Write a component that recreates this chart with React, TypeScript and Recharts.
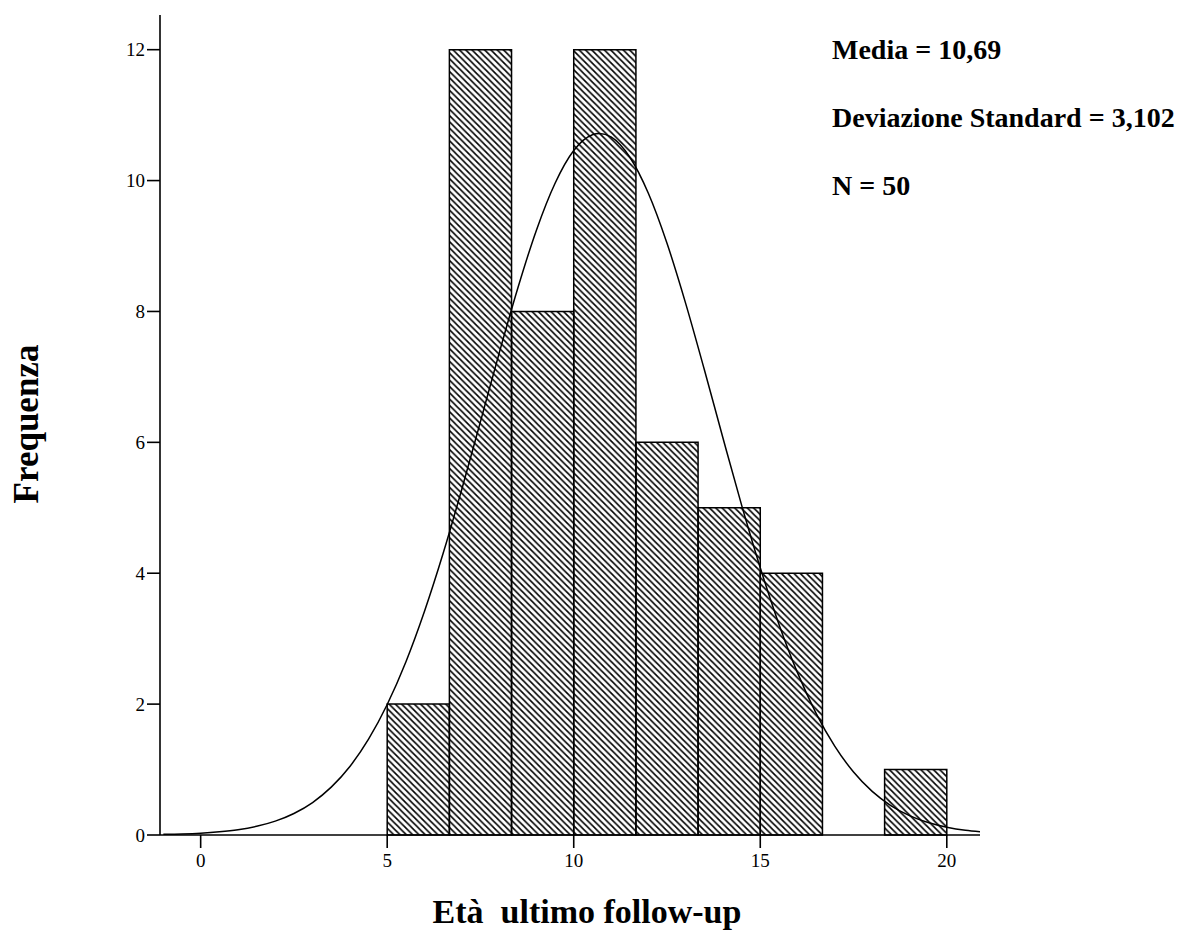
import React from 'react';
import { ComposedChart, Line, XAxis, YAxis, ReferenceArea } from 'recharts';

// istogramma: classi di età e frequenze
const binStart = [5, 6.667, 8.333, 10, 11.667, 13.333, 15, 16.667, 18.333];
const binEnd = [6.667, 8.333, 10, 11.667, 13.333, 15, 16.667, 18.333, 20];
const counts = [2, 12, 8, 12, 6, 5, 4, 0, 1];

// curva normale
const curveX = [-1, -0.5, 0, 0.5, 1, 1.5, 2, 2.5, 3, 3.5, 4, 4.5, 5, 5.5, 6, 6.5, 7, 7.5, 8, 8.5, 9, 9.5, 10, 10.5, 10.69, 11, 11.5, 12, 12.5, 13, 13.5, 14, 14.5, 15, 15.5, 16, 16.5, 17, 17.5, 18, 18.5, 19, 19.5, 20, 20.5, 20.9];
const curveY = [0.01, 0.016, 0.028, 0.049, 0.081, 0.133, 0.212, 0.329, 0.496, 0.731, 1.047, 1.464, 1.994, 2.644, 3.419, 4.304, 5.284, 6.317, 7.36, 8.355, 9.242, 9.959, 10.459, 10.7, 10.72, 10.667, 10.36, 9.806, 9.042, 8.124, 7.113, 6.067, 5.041, 4.083, 3.222, 2.477, 1.856, 1.354, 0.963, 0.667, 0.45, 0.296, 0.19, 0.119, 0.072, 0.05];

const xTicks = [0, 5, 10, 15, 20];
const yTicks = [0, 2, 4, 6, 8, 10, 12];

const statsLines = ['Media = 10,69', 'Deviazione Standard = 3,102', 'N = 50'];

const font = '"Liberation Serif", "Times New Roman", serif';

export default function App() {
  const curveData = curveX.map((x, i) => ({ x, y: curveY[i] }));

  return (
    <div style={{ position: 'absolute', left: 0, top: 0, width: 1195, height: 937, background: '#fff', fontFamily: font }}>
      <ComposedChart
        width={1195}
        height={937}
        data={curveData}
        margin={{ top: 15, right: 215, left: 0, bottom: 72 }}
      >
        <defs>
          <pattern id="hatch" patternUnits="userSpaceOnUse" width="6.3" height="6.3">
            <path d="M0,0 L6.3,6.3 M-2,4.3 L2,8.3 M4.3,-2 L8.3,2" stroke="#000" strokeWidth="1.6" />
          </pattern>
        </defs>
        <XAxis
          dataKey="x"
          type="number"
          domain={[-1.09, 20.89]}
          ticks={xTicks}
          allowDataOverflow
          height={30}
          tickSize={13}
          tickMargin={6}
          axisLine={{ stroke: '#000', strokeWidth: 1.6 }}
          tickLine={{ stroke: '#000', strokeWidth: 1.6 }}
          tick={{ fill: '#000', fontSize: 19, fontFamily: font }}
        />
        <YAxis
          type="number"
          domain={[0, 12.53]}
          ticks={yTicks}
          allowDataOverflow
          width={160}
          tickSize={13}
          tickMargin={2}
          axisLine={{ stroke: '#000', strokeWidth: 1.6 }}
          tickLine={{ stroke: '#000', strokeWidth: 1.6 }}
          tick={{ fill: '#000', fontSize: 19, fontFamily: font }}
        />
        {counts.map((c, i) =>
          c > 0 ? (
            <ReferenceArea
              key={i}
              x1={binStart[i]}
              x2={binEnd[i]}
              y1={0}
              y2={c}
              fill="url(#hatch)"
              fillOpacity={1}
              stroke="#000"
              strokeWidth={1.5}
            />
          ) : null
        )}
        <Line
          dataKey="y"
          type="monotone"
          stroke="#000"
          strokeWidth={1.5}
          dot={false}
          activeDot={false}
          isAnimationActive={false}
        />
      </ComposedChart>

      {/* statistiche in alto a destra */}
      {statsLines.map((s, i) => (
        <div
          key={s}
          style={{
            position: 'absolute',
            left: 832,
            top: 50 + i * 68,
            transform: 'translateY(-50%)',
            fontSize: 28,
            fontWeight: 'bold',
            whiteSpace: 'nowrap',
            lineHeight: 1,
          }}
        >
          {s}
        </div>
      ))}

      {/* titolo asse y */}
      <div
        style={{
          position: 'absolute',
          left: 26,
          top: 424,
          transform: 'translate(-50%, -50%) rotate(-90deg)',
          fontSize: 35,
          fontWeight: 'bold',
          whiteSpace: 'nowrap',
          lineHeight: 1,
        }}
      >
        Frequenza
      </div>

      {/* titolo asse x */}
      <div
        style={{
          position: 'absolute',
          left: 587,
          top: 912,
          transform: 'translate(-50%, -50%)',
          fontSize: 34,
          fontWeight: 'bold',
          whiteSpace: 'pre',
          lineHeight: 1,
        }}
      >
        {'Età  ultimo follow-up'}
      </div>
    </div>
  );
}
